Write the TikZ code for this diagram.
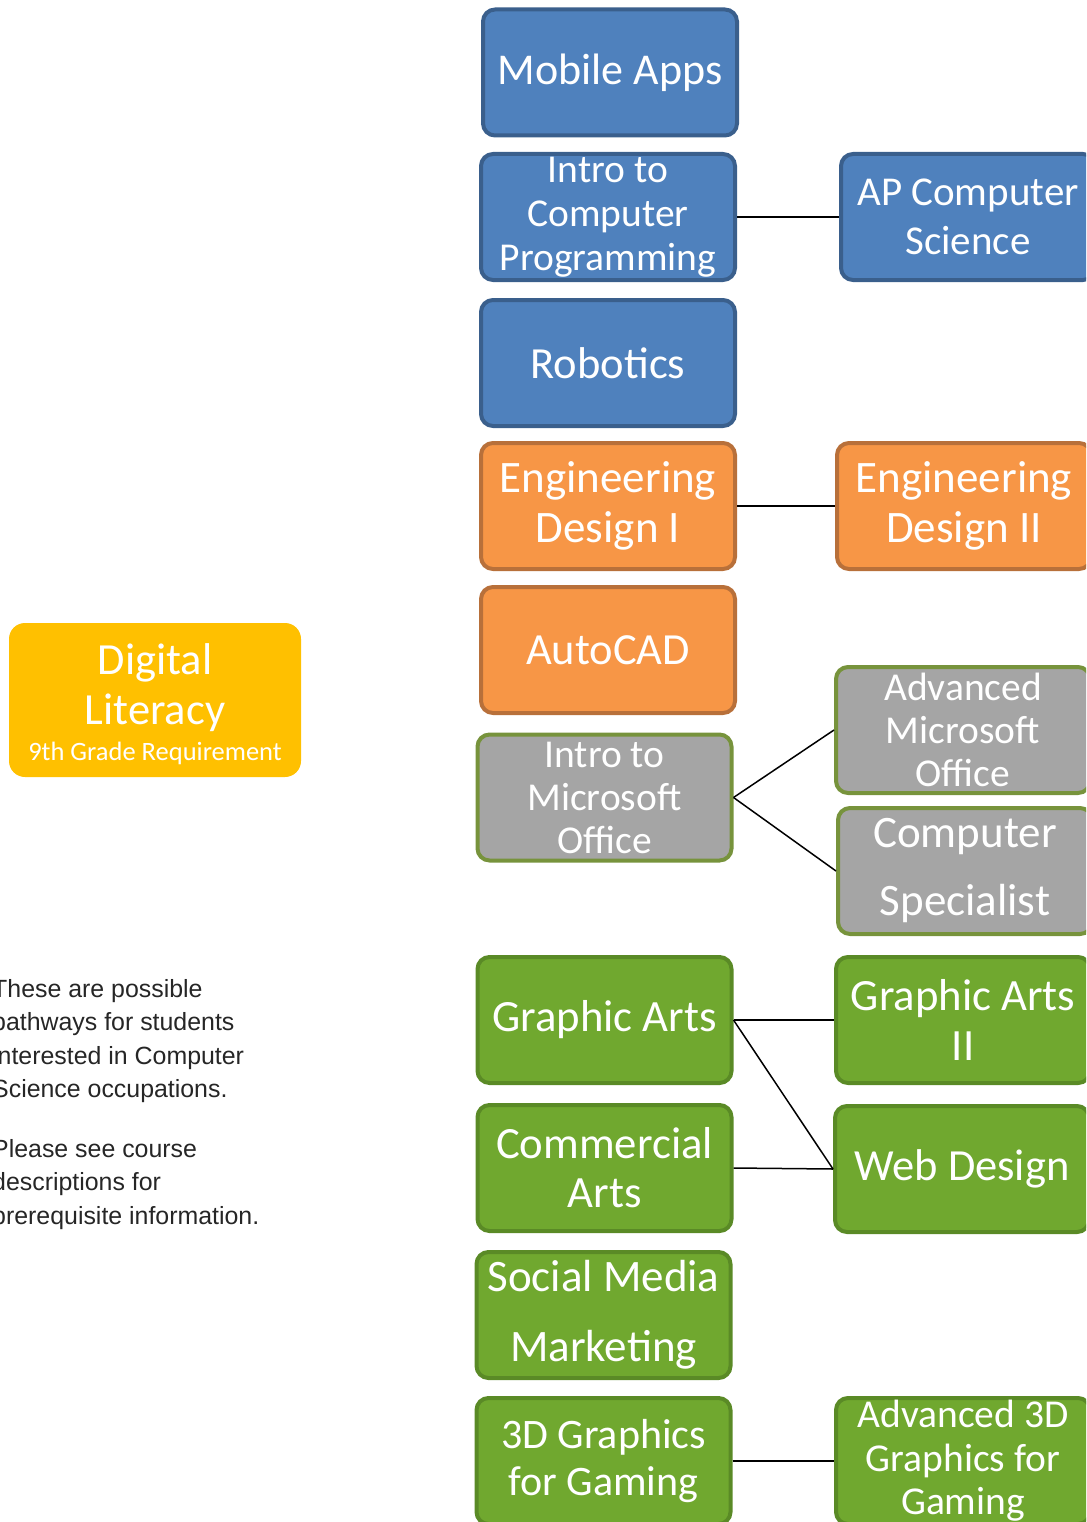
\documentclass[tikz,border=0pt]{standalone}
\usepackage{fontspec}
\setmainfont{Carlito}
\newfontfamily\notefont{Liberation Sans}
\definecolor{blueFill}{HTML}{4F81BD}
\definecolor{blueLine}{HTML}{3A5F8C}
\definecolor{orangeFill}{HTML}{F79646}
\definecolor{orangeLine}{HTML}{B8703A}
\definecolor{grayFill}{HTML}{A5A5A5}
\definecolor{grayLine}{HTML}{77933C}
\definecolor{greenFill}{HTML}{70A82F}
\definecolor{greenLine}{HTML}{5A8A26}
\definecolor{yellowFill}{HTML}{FFC000}
\definecolor{noteText}{HTML}{262626}
\newcommand{\fsz}[2]{\fontsize{#1pt}{#2pt}\selectfont}
\tikzset{
  course/.style={rectangle,rounded corners=12pt,line width=4pt,text=white,align=center,inner sep=0pt,minimum width=254pt,minimum height=126pt},
  bluecourse/.style={course,fill=blueFill,draw=blueLine},
  orangecourse/.style={course,fill=orangeFill,draw=orangeLine},
  graycourse/.style={course,fill=grayFill,draw=grayLine},
  greencourse/.style={course,fill=greenFill,draw=greenLine},
  link/.style={line width=1.5pt,black}
}
\begin{document}
\begin{tikzpicture}[x=1pt,y=-1pt]
\useasboundingbox (0,0) rectangle (1086,1522);
\clip (0,0) rectangle (1086,1522);
% computer science
\node[bluecourse,font=\fsz{44}{44}] (mobile) at (610,72.5) {Mobile Apps};
\node[bluecourse,font=\fsz{39.5}{44}] (introcp) at (608,217) {Intro to\\Computer\\Programming};
\node[bluecourse,font=\fsz{41}{49}] (apcs) at (968,217) {AP Computer\\Science};
\node[bluecourse,font=\fsz{44.5}{44}] (robotics) at (608,363) {Robotics};
% engineering
\node[orangecourse,font=\fsz{45}{50}] (engone) at (608,506) {Engineering\\Design I};
\node[orangecourse,font=\fsz{45}{50}] (engtwo) at (964,506) {Engineering\\Design II};
\node[orangecourse,font=\fsz{44.5}{44}] (autocad) at (608,650) {AutoCAD};
% office
\node[graycourse,font=\fsz{39.5}{43}] (introms) at (604.5,797.5) {Intro to\\Microsoft\\Office};
\node[graycourse,font=\fsz{39.5}{43}] (advms) at (963,730) {Advanced\\Microsoft\\Office};
\node[graycourse,font=\fsz{45}{68}] (compspec) at (965,871) {Computer\\Specialist};
% arts
\node[greencourse,font=\fsz{44.7}{44}] (graphic) at (604.5,1020) {Graphic Arts};
\node[greencourse,font=\fsz{44.7}{50}] (graphictwo) at (963,1020) {Graphic Arts\\II};
\node[greencourse,font=\fsz{44.7}{49}] (commercial) at (604.5,1168) {Commercial\\Arts};
\node[greencourse,font=\fsz{44.5}{44}] (web) at (962,1169) {Web Design};
\node[greencourse,font=\fsz{45}{70}] (social) at (603.5,1315) {Social Media\\Marketing};
\node[greencourse,font=\fsz{42}{47}] (gaming) at (603.5,1461) {3D Graphics\\for Gaming};
\node[greencourse,font=\fsz{39.5}{43.5}] (advgaming) at (963,1461) {Advanced 3D\\Graphics for\\Gaming};
% requirement
\node[rectangle,rounded corners=16pt,fill=yellowFill,text=white,align=center,inner sep=0pt,minimum width=292pt,minimum height=154pt,font=\fsz{44.5}{50}] (literacy) at (155,700) {\rule{0pt}{39pt}Digital\\Literacy\\[-14pt]{\fsz{26.5}{30}9th Grade Requirement}};
\node[anchor=north west,inner sep=0pt,align=left,text=noteText,font=\notefont\fsz{24.9}{33.5}] (note) at (-8,979) {These are possible\\pathways for students\\interested in Computer\\Science occupations.\\[26pt]Please see course\\descriptions for\\prerequisite information.};
\draw[link] (introcp.east) -- (apcs.west);
\draw[link] (engone.east) -- (engtwo.west);
\draw[link] (introms.east) -- (advms.west);
\draw[link] (introms.east) -- (compspec.west);
\draw[link] (graphic.east) -- (graphictwo.west);
\draw[link] (graphic.east) -- (web.west);
\draw[link] (commercial.east) -- (web.west);
\draw[link] (gaming.east) -- (advgaming.west);
\end{tikzpicture}
\end{document}
